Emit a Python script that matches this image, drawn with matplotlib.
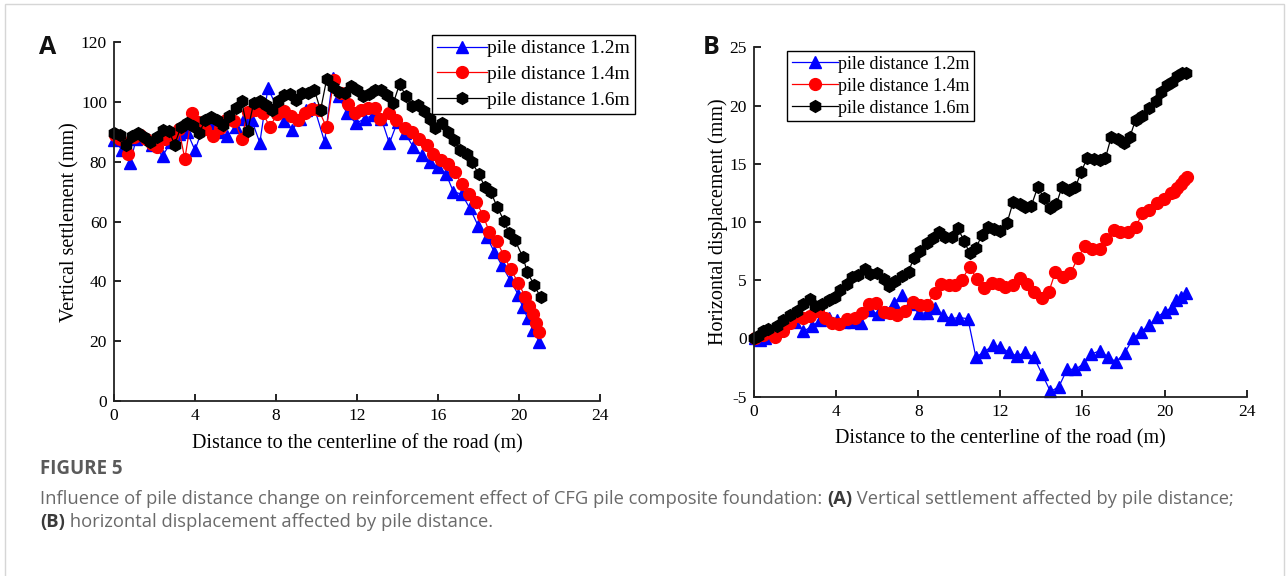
import matplotlib
matplotlib.use("Agg")
import matplotlib.pyplot as plt
from matplotlib.patches import Rectangle

plt.rcParams["axes.unicode_minus"] = False

# ---------------- data: panel A (vertical settlement, mm) ----------------
xa_12 = [0.0, 0.4, 0.8, 1.1, 1.5, 1.9, 2.4, 2.8, 3.2, 3.6, 4.0, 4.4, 4.8, 5.2, 5.6, 6.0,
         6.4, 6.8, 7.2, 7.6, 8.0, 8.4, 8.8, 9.2, 9.5, 9.9, 10.4, 10.8, 11.1, 11.5, 11.95,
         12.4, 12.8, 13.2, 13.6, 14.0, 14.37, 14.78, 15.19, 15.6, 16.0, 16.4, 16.76, 17.17,
         17.58, 17.99, 18.4, 18.78, 19.14, 19.56, 19.97, 20.18, 20.43, 20.7, 21.0]
ya_12 = [87.3, 84.0, 79.7, 87.8, 88.4, 85.6, 82.0, 86.5, 89.3, 90.1, 83.9, 91.7, 92.5, 90.0,
         88.6, 91.7, 94.2, 94.0, 86.4, 104.6, 99.0, 93.8, 90.6, 94.5, 97.3, 98.0, 86.7, 108.0,
         102.0, 96.2, 92.9, 94.5, 95.6, 94.5, 86.2, 93.4, 89.5, 85.0, 82.3, 80.0, 78.4, 75.9,
         70.0, 69.2, 64.4, 58.5, 55.0, 49.9, 45.5, 40.5, 35.5, 31.3, 27.7, 23.7, 19.8]

xa_14 = [0.05, 0.3, 0.7, 1.0, 1.3, 1.6, 1.9, 2.1, 2.5, 2.85, 3.2, 3.5, 3.85, 4.15, 4.5, 4.9,
         5.25, 5.55, 5.95, 6.3, 6.6, 6.95, 7.35, 7.7, 8.05, 8.4, 8.75, 9.1, 9.45, 9.8, 10.1,
         10.5, 10.85, 11.2, 11.55, 11.9, 12.2, 12.55, 12.9, 13.15, 13.6, 13.95, 14.37, 14.7,
         15.08, 15.44, 15.77, 16.13, 16.48, 16.84, 17.17, 17.53, 17.88, 18.24, 18.53, 18.9,
         19.26, 19.6, 19.97, 20.31, 20.5, 20.67, 20.84, 21.0]
ya_14 = [89.0, 87.5, 82.7, 88.2, 89.0, 87.5, 86.0, 85.1, 87.6, 88.5, 91.0, 81.0, 96.2, 93.4,
         91.0, 88.7, 91.2, 94.0, 93.6, 87.8, 96.8, 97.5, 96.2, 91.7, 96.0, 97.0, 95.5, 94.0,
         96.5, 97.8, 97.5, 91.5, 107.5, 103.0, 99.5, 96.5, 97.5, 98.0, 98.0, 94.2, 96.5, 94.0,
         91.2, 90.1, 87.5, 85.6, 82.6, 80.6, 79.2, 76.5, 72.6, 69.2, 66.7, 61.9, 56.6, 53.6,
         48.5, 44.0, 39.4, 34.9, 31.8, 29.0, 26.2, 23.2]

xa_16 = [0.0, 0.3, 0.6, 0.9, 1.2, 1.5, 1.8, 2.1, 2.4, 2.7, 3.0, 3.3, 3.6, 3.9, 4.2, 4.5, 4.8,
         5.1, 5.4, 5.7, 6.0, 6.3, 6.6, 6.9, 7.2, 7.5, 7.8, 8.1, 8.4, 8.7, 9.0, 9.3, 9.6, 9.9,
         10.2, 10.5, 10.8, 11.1, 11.4, 11.7, 12.0, 12.3, 12.6, 12.9, 13.2, 13.5, 13.8, 14.1,
         14.4, 14.7, 15.03, 15.3, 15.6, 15.85, 16.18, 16.5, 16.79, 17.09, 17.41, 17.66, 18.02,
         18.32, 18.6, 18.93, 19.26, 19.52, 19.8, 20.18, 20.41, 20.74, 21.07]
ya_16 = [89.7, 89.0, 85.6, 88.6, 89.5, 88.2, 86.7, 88.4, 90.6, 90.4, 85.8, 91.7, 92.9, 92.0,
         89.5, 94.0, 94.9, 94.0, 92.3, 95.3, 97.9, 100.4, 90.4, 99.8, 100.4, 99.0, 97.3, 100.4,
         102.3, 102.7, 100.7, 102.9, 103.1, 104.0, 97.3, 107.6, 105.1, 103.5, 103.1, 105.4,
         104.2, 102.0, 102.7, 104.0, 104.2, 102.3, 99.8, 106.0, 102.2, 98.7, 99.0, 97.1, 94.5,
         91.2, 92.9, 90.1, 87.3, 83.9, 82.6, 80.0, 75.9, 71.5, 70.0, 64.8, 60.3, 56.1, 53.8,
         48.3, 43.3, 38.8, 34.7]

# ---------------- data: panel B (horizontal displacement, mm) ----------------
xb_12 = [0.05, 0.3, 0.54, 0.78, 1.19, 1.59, 2.0, 2.41, 2.81, 3.22, 3.63, 4.03, 4.39, 4.81,
         5.2, 5.63, 6.02, 6.42, 6.8, 7.2, 7.61, 8.02, 8.42, 8.83, 9.2, 9.59, 9.98, 10.42,
         10.81, 11.22, 11.63, 12.0, 12.41, 12.81, 13.22, 13.63, 14.03, 14.44, 14.85, 15.25,
         15.66, 16.07, 16.42, 16.85, 17.24, 17.64, 18.05, 18.47, 18.83, 19.24, 19.64, 20.02,
         20.34, 20.57, 20.78, 21.02]
yb_12 = [0.0, -0.1, 0.0, 0.4, 0.85, 1.6, 1.45, 0.6, 1.05, 1.55, 1.8, 1.6, 1.45, 1.45, 1.3,
         2.45, 2.1, 2.3, 3.05, 3.7, 3.0, 2.15, 2.2, 2.6, 2.0, 1.7, 1.8, 1.7, -1.6, -1.15, -0.6,
         -0.7, -1.2, -1.5, -1.2, -1.6, -3.05, -4.55, -4.15, -2.65, -2.65, -2.15, -1.35, -1.05,
         -1.6, -2.0, -1.25, 0.0, 0.55, 1.15, 1.85, 2.3, 2.65, 3.3, 3.6, 3.9]

xb_14 = [0.05, 0.45, 0.7, 1.02, 1.43, 1.76, 2.08, 2.41, 2.73, 3.14, 3.46, 3.79, 4.16, 4.55,
         4.93, 5.25, 5.58, 5.95, 6.31, 6.63, 6.99, 7.37, 7.74, 8.1, 8.42, 8.8, 9.12, 9.48, 9.8,
         10.13, 10.5, 10.86, 11.22, 11.59, 11.92, 12.24, 12.62, 12.98, 13.3, 13.66, 14.03,
         14.36, 14.68, 15.06, 15.41, 15.77, 16.1, 16.47, 16.85, 17.17, 17.53, 17.85, 18.21,
         18.59, 18.91, 19.24, 19.61, 19.97, 20.29, 20.46, 20.62, 20.78, 20.94, 21.07]
yb_14 = [0.0, 0.3, 0.6, 0.1, 0.6, 1.3, 1.9, 1.8, 1.9, 2.35, 1.8, 1.35, 1.2, 1.7, 1.8, 2.2,
         3.0, 3.05, 2.3, 2.15, 2.0, 2.35, 3.15, 2.85, 2.9, 3.9, 4.65, 4.55, 4.55, 5.05, 6.15,
         5.1, 4.35, 4.75, 4.65, 4.4, 4.55, 5.15, 4.7, 4.0, 3.5, 4.0, 5.7, 5.3, 5.6, 6.9, 7.9,
         7.7, 7.65, 8.5, 9.3, 9.15, 9.15, 9.55, 10.75, 11.05, 11.65, 11.95, 12.45, 12.6, 12.9,
         13.25, 13.6, 13.85]

xb_16 = [0.0, 0.2, 0.45, 0.7, 1.1, 1.43, 1.76, 2.08, 2.41, 2.73, 2.98, 3.3, 3.63, 3.95, 4.2,
         4.52, 4.76, 5.09, 5.41, 5.66, 5.98, 6.31, 6.6, 6.88, 7.2, 7.53, 7.77, 8.1, 8.42, 8.72,
         8.99, 9.32, 9.64, 9.92, 10.24, 10.5, 10.83, 11.1, 11.38, 11.67, 12.0, 12.33, 12.62,
         12.94, 13.22, 13.51, 13.82, 14.11, 14.41, 14.73, 15.0, 15.33, 15.66, 15.93, 16.23,
         16.55, 16.85, 17.12, 17.4, 17.72, 18.02, 18.31, 18.59, 18.91, 19.24, 19.56, 19.84,
         20.13, 20.37, 20.62, 20.86, 21.02]
yb_16 = [0.0, 0.2, 0.6, 0.8, 1.1, 1.6, 2.0, 2.4, 3.0, 3.35, 2.8, 3.0, 3.3, 3.6, 4.2, 4.7,
         5.3, 5.45, 5.93, 5.5, 5.6, 5.1, 4.5, 4.9, 5.4, 5.7, 6.9, 7.5, 8.2, 8.6, 9.1, 8.7, 8.7,
         9.45, 8.4, 7.3, 7.8, 8.9, 9.6, 9.4, 9.25, 9.95, 11.7, 11.55, 11.25, 11.4, 13.0, 12.1,
         11.2, 11.55, 13.0, 12.75, 13.0, 14.3, 15.47, 15.4, 15.3, 15.5, 17.3, 17.1, 16.75, 17.3,
         18.8, 19.1, 19.8, 20.4, 21.2, 21.8, 22.05, 22.5, 22.8, 22.8]

labels = ["pile distance 1.2m", "pile distance 1.4m", "pile distance 1.6m"]
xticks = [0, 4, 8, 12, 16, 20, 24]
yticks_a = [0, 20, 40, 60, 80, 100, 120]
yticks_b = [-5, 0, 5, 10, 15, 20, 25]

# ---------------- figure ----------------
W, H = 1288, 576
fig = plt.figure(figsize=(W / 100, H / 100), dpi=100)
fig.patch.set_facecolor("white")

SERIF = ["Liberation Serif", "DejaVu Serif"]
SANS = ["Open Sans", "DejaVu Sans"]


def px_axes(left, top, right, bottom):
    return fig.add_axes([left / W, 1 - bottom / H, (right - left) / W, (bottom - top) / H])


styles = [
    dict(color="#0000ff", marker="^", ms=9),
    dict(color="#ff0000", marker="o", ms=8.5),
    dict(color="#000000", marker="h", ms=8.5),
]


def style_axes(ax, yticks, ylim, ylabel):
    for s in ["top", "right"]:
        ax.spines[s].set_visible(False)
    for s in ["left", "bottom"]:
        ax.spines[s].set_linewidth(1.3)
        ax.spines[s].set_color("#222222")
    ax.set_xlim(0, 24)
    ax.set_ylim(*ylim)
    ax.set_xticks(xticks)
    ax.set_yticks(yticks)
    ax.tick_params(direction="in", length=5, width=1.2, labelsize=12.5, pad=5)
    for lab in ax.get_xticklabels() + ax.get_yticklabels():
        lab.set_fontfamily(SERIF)
    ax.set_xlabel("Distance to the centerline of the road (m)", fontsize=14.5,
                  fontfamily=SERIF, labelpad=7)
    ax.set_ylabel(ylabel, fontsize=14.5, fontfamily=SERIF, labelpad=1)


# Panel A
axA = px_axes(114, 42.3, 600, 401)
for xs, ys, st, lab in zip([xa_12, xa_14, xa_16], [ya_12, ya_14, ya_16], styles, labels):
    axA.plot(xs, ys, linestyle="-", lw=0.9, label=lab, clip_on=False, **st)
style_axes(axA, yticks_a, (0, 120), "Vertical settlement (mm)")

# Panel B
axB = px_axes(754, 47.3, 1246.7, 396.7)
for xs, ys, st, lab in zip([xb_12, xb_14, xb_16], [yb_12, yb_14, yb_16], styles, labels):
    axB.plot(xs, ys, linestyle="-", lw=0.9, label=lab, clip_on=False, **st)
style_axes(axB, yticks_b, (-5, 25), "Horizontal displacement (mm)")


def make_legend(ax, x_px, y_px, size, spacing):
    leg = ax.legend(bbox_to_anchor=(x_px / W, 1 - y_px / H), bbox_transform=fig.transFigure,
                    prop={"family": SERIF, "size": size}, handlelength=2.6, handletextpad=0.0,
                    borderpad=0.25, labelspacing=spacing, borderaxespad=0, fancybox=False,
                    framealpha=1, edgecolor="black", loc="upper left")
    leg.get_frame().set_linewidth(1.0)
    return leg


make_legend(axA, 432, 35, 14, 0.42)
make_legend(axB, 787, 51, 13, 0.28)

# Panel letters
fig.text(39 / W, 1 - 48 / H, "A", fontsize=18, fontweight="bold", fontfamily=SANS,
         va="center", ha="left", color="#111111")
fig.text(703 / W, 1 - 47 / H, "B", fontsize=18, fontweight="bold", fontfamily=SANS,
         va="center", ha="left", color="#111111")

# Caption
fig.text(40 / W, 1 - 469 / H, "FIGURE 5", fontsize=13.5, fontweight="bold", fontfamily=SANS,
         color="#5a5a5a", va="center", ha="left")

renderer = fig.canvas.get_renderer()


def rich_line(x_px, y_px, parts, size=13.2):
    x = x_px / W
    for txt, weight, color in parts:
        t = fig.text(x, 1 - y_px / H, txt, fontsize=size, fontweight=weight,
                     fontfamily=SANS, color=color, va="center", ha="left")
        bb = t.get_window_extent(renderer)
        x += bb.width / W


grey = "#6a6a6a"
dark = "#3a3a3a"
rich_line(40, 499, [
    ("Influence of pile distance change on reinforcement effect of CFG pile composite foundation: ", "normal", grey),
    ("(A)", "bold", dark),
    (" Vertical settlement affected by pile distance;", "normal", grey),
])
rich_line(40, 522, [
    ("(B)", "bold", dark),
    (" horizontal displacement affected by pile distance.", "normal", grey),
])

# light page frame
fig.add_artist(Rectangle((4.5 / W, -0.01), (W - 9) / W, 1 - 3.5 / H + 0.01,
                         transform=fig.transFigure, fill=False, edgecolor="#d6d6d6", lw=1.0))

fig.savefig("out.png", dpi=100, facecolor="white")
